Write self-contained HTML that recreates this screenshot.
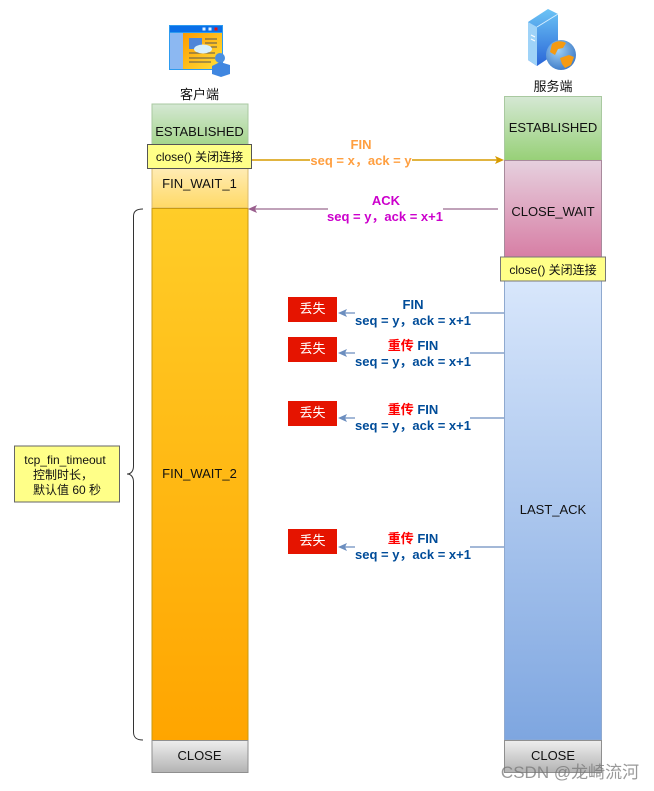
<!DOCTYPE html>
<html><head><meta charset="utf-8"><style>
html,body{margin:0;padding:0;background:#fff;width:654px;height:791px;overflow:hidden}
svg{display:block}
text{font-family:"Liberation Sans","Noto Sans CJK SC",sans-serif;text-anchor:middle}
.l{font-size:13px;fill:#111}
.b{font-size:13px;font-weight:700;fill:#004C99}
</style></head><body>
<svg width="654" height="791" viewBox="0 0 654 791" xmlns="http://www.w3.org/2000/svg">
<defs>
<linearGradient id="g" x1="0" y1="0" x2="0" y2="1"><stop offset="0" stop-color="#d5e8d4"/><stop offset="1" stop-color="#97d077"/></linearGradient>
<linearGradient id="f1" x1="0" y1="0" x2="0" y2="1"><stop offset="0" stop-color="#fff2cc"/><stop offset="1" stop-color="#ffd966"/></linearGradient>
<linearGradient id="f2" x1="0" y1="0" x2="0" y2="1"><stop offset="0" stop-color="#ffcd28"/><stop offset="1" stop-color="#ffa500"/></linearGradient>
<linearGradient id="p" x1="0" y1="0" x2="0" y2="1"><stop offset="0" stop-color="#e6d0de"/><stop offset="1" stop-color="#d5739d"/></linearGradient>
<linearGradient id="bl" x1="0" y1="0" x2="0" y2="1"><stop offset="0" stop-color="#dae8fc"/><stop offset="1" stop-color="#7ea6e0"/></linearGradient>
<linearGradient id="gr" x1="0" y1="0" x2="0" y2="1"><stop offset="0" stop-color="#eeeeee"/><stop offset="1" stop-color="#b3b3b3"/></linearGradient>
<linearGradient id="win" x1="0" y1="0" x2="1" y2="1"><stop offset="0" stop-color="#ff9a00"/><stop offset="1" stop-color="#ffe23a"/></linearGradient>
<linearGradient id="srv" x1="0" y1="0" x2="0" y2="1"><stop offset="0" stop-color="#6cc4f5"/><stop offset="1" stop-color="#2a66d8"/></linearGradient>
<radialGradient id="gl" cx=".4" cy=".35" r=".8"><stop offset="0" stop-color="#9fd0f5"/><stop offset="1" stop-color="#2c6cc0"/></radialGradient>
</defs>

<!-- client icon -->
<rect x="169" y="25" width="54" height="45" fill="#2d9bf0"/>
<rect x="170" y="26" width="52" height="6" fill="#0a6fe8"/>
<rect x="202.500" y="27.500" width="3" height="3" fill="#dfefff"/><rect x="208.500" y="27.500" width="3" height="3" fill="#dfefff"/><rect x="214.500" y="27.500" width="3" height="3" fill="#e81010"/>
<rect x="170" y="33" width="13" height="36" fill="#8cb8f2"/>
<rect x="183" y="33" width="39" height="36" fill="url(#win)"/>
<rect x="189" y="38" width="13" height="11" fill="#4f86d8"/>
<path d="M205 39h12M205 43h12M205 47h12M189 53h26M189 58h26M189 62h22" stroke="#555" stroke-width="1"/>
<ellipse cx="203" cy="49" rx="9" ry="4.500" fill="#d8f0fa"/>
<circle cx="220" cy="58" r="5" fill="#4a8fe0"/>
<path d="M212 66l8-4 10 3v9l-9 3-9-3z" fill="#3f86e0"/>

<!-- server icon -->
<path d="M528 22l20-13 10 5v38l-21 14-9-6z" fill="url(#srv)"/>
<path d="M528 22l9 5v39l-9-6z" fill="#9fd3f8"/>
<path d="M537 27l21-13" stroke="#d6eeff" stroke-width="1"/>
<path d="M531 35l4 2M531 39l4 2" stroke="#fff" stroke-width="1"/>
<circle cx="561" cy="55" r="15" fill="url(#gl)"/>
<path d="M552 44c5-4 11-3 14-1l-3 5-5 1-3 6-5-3zM560 58l9-3 5 2-3 8-6 3-3-4z" fill="#f59a12"/>

<text x="199.500" y="99" class="l">客户端</text>
<text x="553" y="91" class="l">服务端</text>

<!-- client column -->
<rect x="152" y="104" width="96" height="52" fill="url(#g)" stroke="#a9c9a0"/>
<rect x="152" y="156" width="96" height="52" fill="url(#f1)" stroke="#d9bb70"/>
<rect x="152" y="208.500" width="96" height="532" fill="url(#f2)" stroke="#c99a10"/>
<rect x="152" y="740.500" width="96" height="32" fill="url(#gr)" stroke="#8f8f8f"/>
<text x="199.500" y="136" class="l">ESTABLISHED</text>
<rect x="147.500" y="144.500" width="104" height="24" fill="#ffff88" stroke="#555"/>
<text x="199.500" y="161" class="l" style="font-size:12px">close() 关闭连接</text>
<text x="199.500" y="188" class="l">FIN_WAIT_1</text>
<text x="199.500" y="478" class="l">FIN_WAIT_2</text>
<text x="199.500" y="760" class="l">CLOSE</text>

<!-- server column -->
<rect x="504.500" y="96.500" width="97" height="64" fill="url(#g)" stroke="#a9c9a0"/>
<rect x="504.500" y="160.500" width="97" height="110" fill="url(#p)" stroke="#a88a9c"/>
<rect x="504.500" y="270" width="97" height="470" fill="url(#bl)" stroke="#8fa9cf"/>
<rect x="504.500" y="740.500" width="97" height="32" fill="url(#gr)" stroke="#8f8f8f"/>
<text x="553" y="132" class="l">ESTABLISHED</text>
<text x="553" y="216" class="l">CLOSE_WAIT</text>
<rect x="500.500" y="257" width="105" height="24" fill="#ffff88" stroke="#777"/>
<text x="553" y="274" class="l" style="font-size:12px">close() 关闭连接</text>
<text x="553" y="514" class="l">LAST_ACK</text>
<text x="553" y="760" class="l">CLOSE</text>

<!-- FIN arrow -->
<path d="M252 160H310M412 160H497" stroke="#d79b00" stroke-width="1.500" fill="none"/>
<path d="M504 160l-9-4 2 4-2 4z" fill="#d79b00"/>
<text x="361" y="149" style="font-size:13px;font-weight:700;fill:#ff9f40">FIN</text>
<text x="361" y="165" style="font-size:13px;font-weight:700;fill:#ff9f40">seq = x，ack = y</text>

<!-- ACK arrow -->
<path d="M498 209H443M328 209H255" stroke="#9a6a8f" stroke-width="1.300" fill="none"/>
<path d="M248 209l9-4-2 4 2 4z" fill="#9a5f8e"/>
<text x="386" y="205" style="font-size:13px;font-weight:700;fill:#cc00cc">ACK</text>
<text x="385" y="221" style="font-size:13px;font-weight:700;fill:#cc00cc">seq = y，ack = x+1</text>

<!-- lost rows -->
<g stroke="#6c8ebf" stroke-width="1.300" fill="none">
<path d="M504 313H470M355 313H343"/>
<path d="M504 353H470M355 353H343"/>
<path d="M504 418H470M355 418H343"/>
<path d="M504 547H470M355 547H343"/>
</g>
<g fill="#6c8ebf">
<path d="M338 313l9-4-2 4 2 4z"/><path d="M338 353l9-4-2 4 2 4z"/><path d="M338 418l9-4-2 4 2 4z"/><path d="M338 547l9-4-2 4 2 4z"/>
</g>
<g fill="#e51400">
<rect x="288" y="297" width="49" height="25"/><rect x="288" y="337" width="49" height="25"/><rect x="288" y="401" width="49" height="25"/><rect x="288" y="529" width="49" height="25"/>
</g>
<text x="312.500" y="313" fill="#fff" style="font-size:13px">丢失</text>
<text x="312.500" y="353" fill="#fff" style="font-size:13px">丢失</text>
<text x="312.500" y="417" fill="#fff" style="font-size:13px">丢失</text>
<text x="312.500" y="545" fill="#fff" style="font-size:13px">丢失</text>
<text x="413" y="309" class="b">FIN</text>
<text x="413" y="325" class="b">seq = y，ack = x+1</text>
<text x="413" y="350" class="b"><tspan fill="#f00">重传</tspan> FIN</text>
<text x="413" y="366" class="b">seq = y，ack = x+1</text>
<text x="413" y="414" class="b"><tspan fill="#f00">重传</tspan> FIN</text>
<text x="413" y="430" class="b">seq = y，ack = x+1</text>
<text x="413" y="543" class="b"><tspan fill="#f00">重传</tspan> FIN</text>
<text x="413" y="559" class="b">seq = y，ack = x+1</text>

<!-- brace -->
<path d="M143 209C137 209 133.500 211 133.500 216V466C133.500 471 131 474 127 474C131 474 133.500 477 133.500 482V732C133.500 738 137 740 143 740" fill="none" stroke="#333" stroke-width="1"/>

<!-- note -->
<rect x="14.500" y="446" width="105" height="56" fill="#ffff88" stroke="#666"/>
<text x="65" y="464" class="l" style="font-size:12px">tcp_fin_timeout</text>
<text x="63" y="479" class="l" style="font-size:12px">控制时长，</text>
<text x="67" y="494" class="l" style="font-size:12px">默认值 60 秒</text>

<!-- watermark -->
<text x="570" y="778" style="font-size:17px;fill:#777;opacity:.75">CSDN @龙崎流河</text>
</svg>
</body></html>
